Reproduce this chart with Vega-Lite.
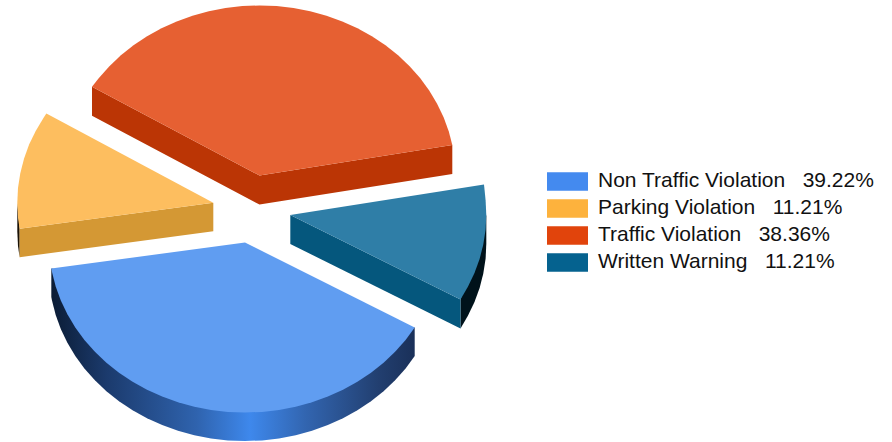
{
"$schema":"https://vega.github.io/schema/vega-lite/v6.json",
"width":892,"height":442,"padding":0,"autosize":"none",
"background":"white",
"view":{"stroke":null},
"datasets":{
"shares":[
{"type":"Non Traffic Violation","share":39.22,"label":"Non Traffic Violation\u00a0\u00a0\u00a039.22%"},
{"type":"Parking Violation","share":11.21,"label":"Parking Violation\u00a0\u00a0\u00a011.21%"},
{"type":"Traffic Violation","share":38.36,"label":"Traffic Violation\u00a0\u00a0\u00a038.36%"},
{"type":"Written Warning","share":11.21,"label":"Written Warning\u00a0\u00a0\u00a011.21%"}
],
"rim":[
{"x":414.7,"y":327.5},{"x":414.7,"y":356},{"x":405.6,"y":368.5},{"x":395.1,"y":380.3},{"x":383.6,"y":391.2},{"x":371,"y":401.2},{"x":357.4,"y":410.3},{"x":343,"y":418.2},{"x":327.8,"y":425.1},{"x":312,"y":430.7},{"x":295.7,"y":435.2},{"x":279,"y":438.4},{"x":262.1,"y":440.4},{"x":245,"y":441},{"x":227.9,"y":440.4},{"x":211,"y":438.4},{"x":194.3,"y":435.2},{"x":178,"y":430.7},{"x":162.2,"y":425.1},{"x":147,"y":418.2},{"x":132.6,"y":410.3},{"x":119,"y":401.2},{"x":106.4,"y":391.2},{"x":94.9,"y":380.3},{"x":84.4,"y":368.5},{"x":75.3,"y":356},{"x":67.4,"y":342.8},{"x":60.8,"y":329.1},{"x":55.7,"y":315},{"x":52,"y":300.5},{"x":51.3,"y":297},{"x":51.3,"y":268.5}
],
"faces":[
{"part":"parking rim","x":17.3,"y":202.7},{"part":"parking rim","x":17.3,"y":231.2},{"part":"parking rim","x":18,"y":246},{"part":"parking rim","x":19.6,"y":257.2},{"part":"parking rim","x":19.6,"y":228.7},
{"part":"parking cut","x":213.3,"y":202.7},{"part":"parking cut","x":19.6,"y":228.7},{"part":"parking cut","x":19.6,"y":257.2},{"part":"parking cut","x":213.3,"y":231.2},
{"part":"parking top","x":213.3,"y":202.7},{"part":"parking top","x":19.6,"y":228.7},{"part":"parking top","x":18,"y":217.5},{"part":"parking top","x":17.3,"y":202.7},{"part":"parking top","x":18,"y":187.9},{"part":"parking top","x":20.3,"y":173.2},{"part":"parking top","x":24,"y":158.7},{"part":"parking top","x":29.1,"y":144.6},{"part":"parking top","x":35.7,"y":130.9},{"part":"parking top","x":43.6,"y":117.7},{"part":"parking top","x":46.4,"y":113.6},
{"part":"traffic cut","x":92,"y":86.7},{"part":"traffic cut","x":259.5,"y":175.5},{"part":"traffic cut","x":452.3,"y":145.1},{"part":"traffic cut","x":452.3,"y":174},{"part":"traffic cut","x":259.5,"y":204.6},{"part":"traffic cut","x":92,"y":115.8},
{"part":"traffic top","x":259.5,"y":175.5},{"part":"traffic top","x":92,"y":86.7},{"part":"traffic top","x":98.9,"y":78},{"part":"traffic top","x":109.4,"y":66.2},{"part":"traffic top","x":120.9,"y":55.3},{"part":"traffic top","x":133.5,"y":45.3},{"part":"traffic top","x":147.1,"y":36.2},{"part":"traffic top","x":161.5,"y":28.3},{"part":"traffic top","x":176.7,"y":21.4},{"part":"traffic top","x":192.5,"y":15.8},{"part":"traffic top","x":208.8,"y":11.3},{"part":"traffic top","x":225.5,"y":8.1},{"part":"traffic top","x":242.4,"y":6.1},{"part":"traffic top","x":259.5,"y":5.5},{"part":"traffic top","x":276.6,"y":6.1},{"part":"traffic top","x":293.5,"y":8.1},{"part":"traffic top","x":310.2,"y":11.3},{"part":"traffic top","x":326.5,"y":15.8},{"part":"traffic top","x":342.3,"y":21.4},{"part":"traffic top","x":357.5,"y":28.3},{"part":"traffic top","x":371.9,"y":36.2},{"part":"traffic top","x":385.5,"y":45.3},{"part":"traffic top","x":398.1,"y":55.3},{"part":"traffic top","x":409.6,"y":66.2},{"part":"traffic top","x":420.1,"y":78},{"part":"traffic top","x":429.2,"y":90.5},{"part":"traffic top","x":437.1,"y":103.7},{"part":"traffic top","x":443.7,"y":117.4},{"part":"traffic top","x":448.8,"y":131.5},{"part":"traffic top","x":452.3,"y":145.1},
{"part":"warning rim","x":486.3,"y":215},{"part":"warning rim","x":486.3,"y":244},{"part":"warning rim","x":485.6,"y":258.8},{"part":"warning rim","x":483.3,"y":273.5},{"part":"warning rim","x":479.6,"y":288},{"part":"warning rim","x":474.5,"y":302.1},{"part":"warning rim","x":467.9,"y":315.8},{"part":"warning rim","x":460.5,"y":328.5},{"part":"warning rim","x":460.5,"y":299.5},
{"part":"warning cut","x":290.3,"y":215},{"part":"warning cut","x":460.5,"y":299.5},{"part":"warning cut","x":460.5,"y":328.5},{"part":"warning cut","x":290.3,"y":244},
{"part":"warning top","x":290.3,"y":215},{"part":"warning top","x":484,"y":184.4},{"part":"warning top","x":485.6,"y":200.2},{"part":"warning top","x":486.3,"y":215},{"part":"warning top","x":485.6,"y":229.8},{"part":"warning top","x":483.3,"y":244.5},{"part":"warning top","x":479.6,"y":259},{"part":"warning top","x":474.5,"y":273.1},{"part":"warning top","x":467.9,"y":286.8},{"part":"warning top","x":460.5,"y":299.5},
{"part":"non traffic top","x":245,"y":242.5},{"part":"non traffic top","x":414.7,"y":327.5},{"part":"non traffic top","x":405.6,"y":340},{"part":"non traffic top","x":395.1,"y":351.8},{"part":"non traffic top","x":383.6,"y":362.7},{"part":"non traffic top","x":371,"y":372.7},{"part":"non traffic top","x":357.4,"y":381.8},{"part":"non traffic top","x":343,"y":389.7},{"part":"non traffic top","x":327.8,"y":396.6},{"part":"non traffic top","x":312,"y":402.2},{"part":"non traffic top","x":295.7,"y":406.7},{"part":"non traffic top","x":279,"y":409.9},{"part":"non traffic top","x":262.1,"y":411.9},{"part":"non traffic top","x":245,"y":412.5},{"part":"non traffic top","x":227.9,"y":411.9},{"part":"non traffic top","x":211,"y":409.9},{"part":"non traffic top","x":194.3,"y":406.7},{"part":"non traffic top","x":178,"y":402.2},{"part":"non traffic top","x":162.2,"y":396.6},{"part":"non traffic top","x":147,"y":389.7},{"part":"non traffic top","x":132.6,"y":381.8},{"part":"non traffic top","x":119,"y":372.7},{"part":"non traffic top","x":106.4,"y":362.7},{"part":"non traffic top","x":94.9,"y":351.8},{"part":"non traffic top","x":84.4,"y":340},{"part":"non traffic top","x":75.3,"y":327.5},{"part":"non traffic top","x":67.4,"y":314.3},{"part":"non traffic top","x":60.8,"y":300.6},{"part":"non traffic top","x":55.7,"y":286.5},{"part":"non traffic top","x":52,"y":272},{"part":"non traffic top","x":51.3,"y":268.5}
]
},
"layer":[
{
"data":{"name":"shares"},
"mark":{"type":"point","filled":true,"opacity":0},
"encoding":{
"color":{"field":"label","type":"nominal","sort":null,
"scale":{"domain":["Non Traffic Violation\u00a0\u00a0\u00a039.22%","Parking Violation\u00a0\u00a0\u00a011.21%","Traffic Violation\u00a0\u00a0\u00a038.36%","Written Warning\u00a0\u00a0\u00a011.21%"],"range":["#448AEF","#FDB23D","#E1440C","#05628F"]},
"legend":{"orient":"none","legendX":547,"legendY":168,"title":null,"symbolType":"M-1,-0.45H1V0.45H-1Z","symbolSize":1681,"symbolOpacity":1,"symbolStrokeWidth":0,"labelFont":"Liberation Sans","labelFontSize":21,"labelColor":"#111111","labelLimit":400,"labelOffset":10,"clipHeight":26.8,"rowPadding":0,"padding":0}}
}
},
{
"data":{"name":"rim"},
"mark":{"type":"line","strokeWidth":0,"fill":{"gradient":"linear","x1":0,"x2":1,"y1":0,"y2":0,"stops":[{"offset":0,"color":"#0b1c35"},{"offset":0.15,"color":"#1b3a6c"},{"offset":0.4,"color":"#2f63ae"},{"offset":0.547,"color":"#3e88ec"},{"offset":0.7,"color":"#3265b0"},{"offset":0.9,"color":"#223f70"},{"offset":1,"color":"#1a3059"}]}},
"encoding":{
"x":{"field":"x","type":"quantitative","scale":{"domain":[0,892],"nice":false,"zero":false},"axis":null},
"y":{"field":"y","type":"quantitative","scale":{"domain":[442,0],"nice":false,"zero":false},"axis":null},
"order":{"value":null}
}
},
{
"data":{"name":"faces"},
"mark":{"type":"line","strokeWidth":0},
"encoding":{
"x":{"field":"x","type":"quantitative","axis":null},
"y":{"field":"y","type":"quantitative","axis":null},
"order":{"value":null},
"fill":{"field":"part","type":"nominal","legend":null,
"scale":{"domain":["non traffic top","parking rim","parking cut","parking top","traffic cut","traffic top","warning rim","warning cut","warning top"],"range":["#609DF1","#1a1206","#D49834","#FDBE5F","#BB3505","#E66032","#00121A","#05577D","#2F7EA7"]}}
}
}
],
"config":{"style":{"guide-label":{"font":"Liberation Sans"}}}
}
